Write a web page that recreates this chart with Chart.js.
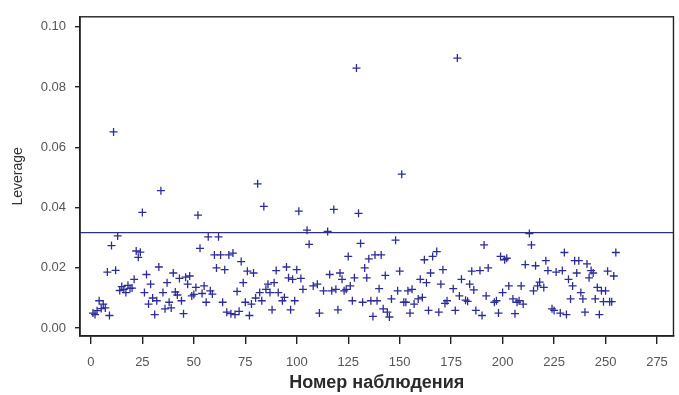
<!DOCTYPE html>
<html>
<head>
<meta charset="utf-8">
<script src="https://cdn.jsdelivr.net/npm/chart.js@4"></script>
<style>
  html, body { margin: 0; padding: 0; background: #fff; }
  #wrap { width: 679px; height: 395px; }
</style>
</head>
<body>
<div id="wrap"><canvas id="leverageChart" width="679" height="395"></canvas></div>
<script>
const obsNumber = [
    1, 2, 3, 4, 5, 6, 7, 8, 9, 10, 11, 12, 13, 14, 15, 16, 17, 18, 19, 20,
    21, 22, 23, 24, 25, 26, 27, 28, 29, 30, 31, 32, 33, 34, 35, 36, 37, 38, 39, 40,
    41, 42, 43, 44, 45, 46, 47, 48, 49, 50, 51, 52, 53, 54, 55, 56, 57, 58, 59, 60,
    61, 62, 63, 64, 65, 66, 67, 68, 69, 70, 71, 72, 73, 74, 75, 76, 77, 78, 79, 80,
    81, 82, 83, 84, 85, 86, 87, 88, 89, 90, 91, 93, 94, 95, 96, 97, 98, 99, 100, 101,
    102, 103, 105, 106, 108, 110, 111, 113, 115, 116, 117, 118, 119, 120, 121, 122, 123, 124, 125, 126,
    127, 128, 129, 130, 131, 132, 133, 134, 135, 136, 137, 138, 139, 140, 141, 142, 143, 144, 145, 146,
    148, 149, 150, 151, 152, 153, 154, 155, 156, 157, 159, 160, 161, 162, 163, 164, 165, 166, 168, 169,
    170, 171, 172, 173, 176, 177, 178, 179, 180, 182, 183, 184, 185, 186, 187, 189, 190, 191, 192, 193,
    196, 197, 198, 199, 200, 201, 202, 203, 205, 206, 207, 208, 209, 210, 211, 213, 214, 215, 216, 217,
    218, 220, 221, 222, 224, 225, 226, 228, 229, 230, 231, 232, 233, 234, 235, 236, 237, 238, 239, 240,
    241, 242, 243, 244, 245, 246, 247, 248, 249, 250, 251, 252, 253, 254, 255
];
const leverage = [
    0.0050, 0.0045, 0.0058, 0.0091, 0.0065, 0.0080, 0.0067, 0.0186, 0.0042, 0.0274,
    0.0651, 0.0192, 0.0306, 0.0125, 0.0138, 0.0129, 0.0118, 0.0142, 0.0132, 0.0133,
    0.0162, 0.0256, 0.0235, 0.0252, 0.0384, 0.0118, 0.0178, 0.0080, 0.0146, 0.0100,
    0.0045, 0.0091, 0.0203, 0.0456, 0.0118, 0.0064, 0.0151, 0.0086, 0.0067, 0.0183,
    0.0120, 0.0110, 0.0165, 0.0091, 0.0048, 0.0169, 0.0146, 0.0173, 0.0107, 0.0112,
    0.0135, 0.0375, 0.0265, 0.0115, 0.0140, 0.0086, 0.0303, 0.0124, 0.0113, 0.0243,
    0.0200, 0.0303, 0.0243, 0.0086, 0.0194, 0.0053, 0.0243, 0.0048, 0.0249, 0.0045,
    0.0122, 0.0056, 0.0221, 0.0151, 0.0086, 0.0189, 0.0042, 0.0080, 0.0183, 0.0100,
    0.0479, 0.0118, 0.0091, 0.0404, 0.0129, 0.0146, 0.0118, 0.0061, 0.0151, 0.0191,
    0.0118, 0.0091, 0.0102, 0.0203, 0.0167, 0.0061, 0.0162, 0.0091, 0.0194, 0.0388,
    0.0165, 0.0129, 0.0325, 0.0278, 0.0140, 0.0146, 0.0050, 0.0124, 0.0321, 0.0178,
    0.0124, 0.0394, 0.0129, 0.0061, 0.0183, 0.0162, 0.0124, 0.0129, 0.0238, 0.0140,
    0.0091, 0.0167, 0.0863, 0.0381, 0.0281, 0.0086, 0.0200, 0.0167, 0.0230, 0.0091,
    0.0039, 0.0243, 0.0091, 0.0131, 0.0243, 0.0064, 0.0175, 0.0053, 0.0037, 0.0097,
    0.0292, 0.0124, 0.0189, 0.0511, 0.0086, 0.0086, 0.0124, 0.0050, 0.0129, 0.0080,
    0.0097, 0.0162, 0.0102, 0.0227, 0.0151, 0.0059, 0.0183, 0.0238, 0.0254, 0.0053,
    0.0146, 0.0194, 0.0082, 0.0091, 0.0131, 0.0059, 0.0896, 0.0107, 0.0162, 0.0093,
    0.0089, 0.0146, 0.0189, 0.0127, 0.0059, 0.0191, 0.0042, 0.0276, 0.0107, 0.0200,
    0.0086, 0.0091, 0.0050, 0.0238, 0.0118, 0.0227, 0.0232, 0.0140, 0.0097, 0.0048,
    0.0086, 0.0091, 0.0140, 0.0080, 0.0211, 0.0314, 0.0276, 0.0124, 0.0207, 0.0140,
    0.0153, 0.0135, 0.0224, 0.0191, 0.0064, 0.0059, 0.0186, 0.0050, 0.0191, 0.0251,
    0.0045, 0.0162, 0.0097, 0.0140, 0.0224, 0.0183, 0.0224, 0.0118, 0.0097, 0.0053,
    0.0213, 0.0167, 0.0191, 0.0183, 0.0097, 0.0135, 0.0045, 0.0124, 0.0088, 0.0124,
    0.0189, 0.0088, 0.0088, 0.0173, 0.0251
];
const cutoff = 0.0317;
const xTicks = [0, 25, 50, 75, 100, 125, 150, 175, 200, 225, 250, 275];
const yTicks = [0, 0.02, 0.04, 0.06, 0.08, 0.10];

const xMin = -5.3, xMax = 283;
const yMin = -0.0026, yMax = 0.1033;

const axisColor = '#222';
const labelFont = { family: 'Liberation Sans, Arial, sans-serif', size: 13 };

// Closed frame around the plot area
const framePlugin = {
    id: 'frame',
    afterDraw(chart) {
        const { ctx, chartArea } = chart;
        ctx.save();
        ctx.strokeStyle = axisColor;
        ctx.lineWidth = 1.4;
        ctx.strokeRect(chartArea.left, chartArea.top, chartArea.right - chartArea.left, chartArea.bottom - chartArea.top);
        ctx.restore();
    }
};

function initChart() {
    const points = obsNumber.map((n, i) => ({ x: n, y: leverage[i] }));
    const ctx = document.getElementById('leverageChart').getContext('2d');
    new Chart(ctx, {
        type: 'scatter',
        data: {
            datasets: [{
                data: points,
                pointStyle: 'cross',
                pointRadius: 4,
                borderColor: '#2d2d98',
                borderWidth: 1.3
            }, {
                type: 'line',
                data: [{ x: xMin, y: cutoff }, { x: xMax, y: cutoff }],
                borderColor: '#2f2f86',
                borderWidth: 1.3,
                pointRadius: 0
            }]
        },
        options: {
            responsive: false,
            animation: false,
            layout: { padding: { top: 11, right: 2, left: 0, bottom: 0 } },
            plugins: { legend: { display: false }, tooltip: { enabled: false } },
            scales: {
                x: {
                    type: 'linear',
                    min: xMin,
                    max: xMax,
                    afterBuildTicks: scale => { scale.ticks = xTicks.map(v => ({ value: v })); },
                    afterFit: scale => { scale.height = 59; },
                    grid: { drawOnChartArea: false, drawTicks: true, tickLength: 8, color: axisColor, lineWidth: 1.4 },
                    border: { display: true, color: axisColor, width: 1.4 },
                    ticks: { color: '#555', font: labelFont, padding: 11, maxRotation: 0 },
                    title: {
                        display: true,
                        text: 'Номер наблюдения',
                        color: '#2a2a2a',
                        font: { family: 'Liberation Sans, Arial, sans-serif', size: 18, weight: 'bold' },
                        padding: { top: 0, bottom: 1 }
                    }
                },
                y: {
                    min: yMin,
                    max: yMax,
                    afterBuildTicks: scale => { scale.ticks = yTicks.map(v => ({ value: v })); },
                    afterFit: scale => { scale.width = 80; },
                    grid: { drawOnChartArea: false, drawTicks: true, tickLength: 5, color: axisColor, lineWidth: 1.4 },
                    border: { display: true, color: axisColor, width: 1.4 },
                    ticks: {
                        color: '#555',
                        font: labelFont,
                        padding: 9,
                        callback: v => v.toFixed(2)
                    },
                    title: {
                        display: true,
                        text: 'Leverage',
                        color: '#333',
                        font: { family: 'Liberation Sans, Arial, sans-serif', size: 14 },
                        padding: { top: 10, bottom: 0 }
                    }
                }
            }
        },
        plugins: [framePlugin]
    });
}

document.addEventListener('DOMContentLoaded', initChart);
</script>
</body>
</html>
